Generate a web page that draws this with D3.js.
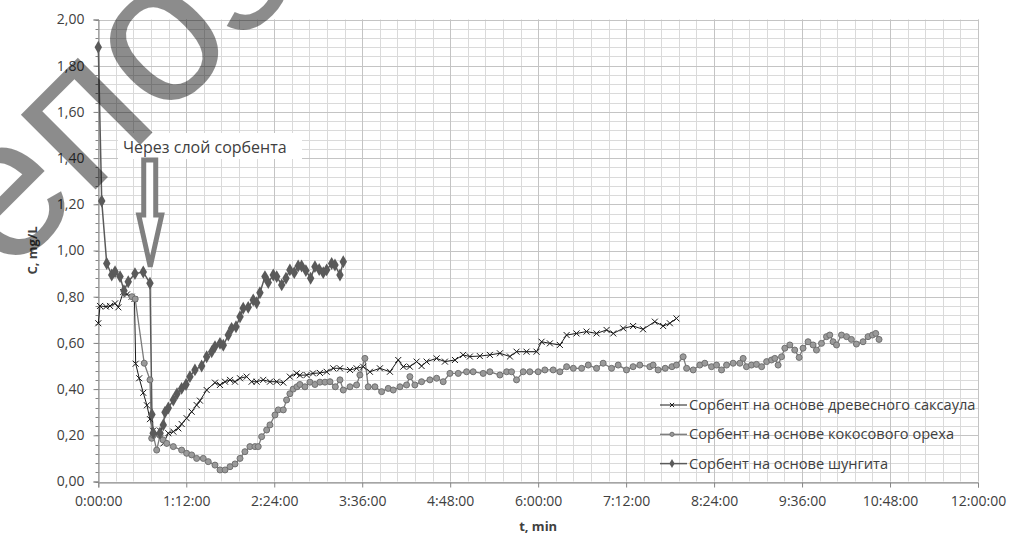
<!DOCTYPE html>
<html>
<head>
<meta charset="utf-8">
<script src="https://cdn.jsdelivr.net/npm/d3@7"></script>
<style>
  body { margin: 0; background: #fff; }
  svg { display: block; font-family: "Open Sans", sans-serif; }
</style>
</head>
<body>
<div id="chart"></div>
<script>
// t in minutes, c in mg/L
var saxaul = [
  [0,0.685],[1.4,0.76],[6.3,0.757],[9.6,0.76],[13.7,0.771],[16.4,0.754],[20.4,0.82],[23.5,0.81],
  [27.3,0.80],[29.6,0.79],[30.6,0.51],[33.5,0.447],[36.8,0.384],[39.8,0.33],[42.3,0.27],[44.8,0.22],
  [47.2,0.20],[50.5,0.22],[53.3,0.165],[57.3,0.209],[61.4,0.216],[65.5,0.23],[68.2,0.249],[72.3,0.274],
  [76.4,0.302],[80.5,0.331],[83.2,0.35],[88.7,0.396],[95.5,0.428],[99.6,0.418],[103.7,0.432],[107.8,0.44],
  [111.9,0.432],[116,0.447],[121.4,0.454],[125.5,0.432],[129.6,0.432],[135,0.44],[140.5,0.432],[146,0.432],
  [151.4,0.428],[156.8,0.454],[162.3,0.468],[165,0.46],[170.5,0.461],[175.7,0.468],[181.4,0.47],[186.9,0.475],
  [192.3,0.49],[197.8,0.49],[206,0.483],[211.4,0.49],[216.8,0.497],[222.3,0.475],[230.5,0.49],[238.7,0.475],
  [245.5,0.526],[249.6,0.497],[255,0.497],[260.5,0.519],[264.6,0.50],[268.7,0.519],[276.9,0.533],[283.7,0.519],
  [291.9,0.526],[298.6,0.548],[304.1,0.541],[312.3,0.543],[320.5,0.548],[328.7,0.555],[336.9,0.541],[342.3,0.562],
  [350.5,0.562],[358.7,0.562],[362.8,0.605],[369.6,0.598],[377.8,0.591],[383.3,0.634],[391.4,0.641],[399.6,0.649],
  [407.8,0.641],[416,0.656],[421.5,0.641],[429.6,0.663],[437.7,0.673],[445.9,0.659],[455.5,0.692],[462.3,0.673],
  [467.8,0.685],[473.2,0.706]
];

var coconut = [
  [27.5,0.80],[30.2,0.79],[37.6,0.512],[42.3,0.44],[43.7,0.187],[45,0.20],[47.8,0.136],[50.5,0.20],
  [53,0.18],[56,0.165],[61.4,0.151],[68.2,0.136],[72.3,0.122],[76.4,0.115],[80.5,0.10],[85.9,0.10],
  [90,0.086],[95.5,0.071],[99.6,0.05],[103.7,0.05],[107.8,0.064],[111.9,0.076],[116,0.10],[120,0.129],
  [124.1,0.151],[128.2,0.151],[130.9,0.151],[133.7,0.194],[137.8,0.223],[140.5,0.245],[144.6,0.288],[147.3,0.31],
  [151.4,0.31],[154.1,0.353],[156.8,0.38],[159.5,0.40],[162.6,0.41],[165,0.42],[169.1,0.41],[173.2,0.43],
  [177.3,0.42],[181.4,0.43],[185.5,0.43],[189.6,0.432],[194,0.41],[197.8,0.44],[200.5,0.396],[206,0.41],
  [211.4,0.418],[214.1,0.461],[218.2,0.533],[220.9,0.41],[226.4,0.41],[231.9,0.389],[237.3,0.403],[241.4,0.396],
  [246.9,0.41],[252.3,0.418],[255,0.454],[259.1,0.418],[264.6,0.432],[271.4,0.44],[276.9,0.447],[282.3,0.432],
  [287.8,0.468],[294.6,0.468],[301.4,0.475],[306.8,0.475],[315,0.468],[320.5,0.475],[328.7,0.461],[334.2,0.475],
  [338.2,0.475],[342.3,0.44],[347.8,0.475],[353.2,0.475],[360,0.475],[365.5,0.483],[372.3,0.483],[377.8,0.475],
  [383.3,0.497],[388.8,0.49],[395.6,0.49],[401,0.504],[407.8,0.49],[413.2,0.512],[420.1,0.49],[425.5,0.504],
  [432.3,0.483],[437.7,0.497],[443.2,0.504],[451.4,0.497],[454.1,0.504],[458.2,0.483],[464,0.49],[469.5,0.497],
  [473.2,0.504],[478.7,0.54],[481.5,0.49],[486.9,0.483],[492.3,0.504],[496.4,0.512],[501.9,0.497],[506,0.504],
  [510.1,0.483],[514.2,0.504],[519.6,0.512],[525.1,0.512],[527.8,0.533],[530.5,0.497],[534.6,0.504],[538.7,0.507],
  [542.9,0.497],[547,0.519],[551,0.526],[553.7,0.533],[556.4,0.504],[559.2,0.54],[561.9,0.577],[566,0.591],
  [570,0.569],[573.6,0.537],[576.8,0.577],[580.9,0.605],[585,0.591],[587.8,0.569],[591.9,0.598],[596,0.627],
  [598.7,0.634],[601.4,0.605],[604.2,0.591],[608.3,0.634],[612.4,0.627],[616.4,0.615],[620.5,0.595],[625.9,0.605],
  [630,0.627],[633.6,0.634],[636.3,0.641],[639,0.615]
];

var shungite = [
  [0,1.88],[2.8,1.214],[6.9,0.944],[11,0.894],[13.7,0.908],[17.8,0.887],[21,0.826],[24.5,0.865],
  [30,0.90],[36.8,0.907],[42.3,0.858],[43.9,0.29],[45,0.21],[50.5,0.21],[53.2,0.245],[54.6,0.30],
  [57.3,0.318],[61.4,0.353],[64.4,0.38],[68.2,0.403],[71.8,0.42],[75,0.454],[79.1,0.483],[84.6,0.50],
  [88.7,0.54],[92.8,0.562],[95.5,0.584],[99.6,0.598],[102.3,0.59],[106.4,0.634],[109.1,0.663],[112.7,0.67],
  [116,0.713],[118.6,0.75],[122.7,0.754],[126.8,0.786],[129.6,0.774],[132.3,0.817],[136.4,0.887],[139.1,0.861],
  [143.2,0.894],[146,0.887],[150.1,0.851],[153.6,0.88],[156.8,0.916],[160.4,0.904],[163.6,0.933],[166.4,0.933],
  [169.9,0.913],[173.8,0.88],[177.3,0.93],[180.8,0.918],[184.1,0.904],[186.9,0.916],[191,0.944],[193.7,0.937],
  [197.8,0.894],[200.5,0.951]
];

var seriesNames = [
  "Сорбент на основе древесного саксаула",
  "Сорбент на основе кокосового ореха",
  "Сорбент на основе шунгита"
];

var yTicks = d3.range(0, 2.001, 0.2);
var xTicks = d3.range(0, 720.1, 72);

var width = 1009, height = 536;
var svg = d3.select("#chart").append("svg")
  .attr("width", width)
  .attr("height", height);

var x = d3.scaleLinear().domain([0, 720]).range([98.3, 978]);
var y = d3.scaleLinear().domain([0, 2]).range([481.5, 19.5]);

function fmtTime(m) {
  var h = Math.floor(m / 60 + 1e-9);
  var mm = Math.round(m - h * 60);
  return h + ":" + (mm < 10 ? "0" : "") + mm + ":00";
}
function fmtC(v) { return d3.format(".2f")(v).replace(".", ","); }

// grid, minor then major
var grid = svg.append("g");
grid.selectAll("line.vmin")
  .data(d3.range(0, 720.1, 14.4))
  .enter().append("line")
  .attr("x1", function(d) { return Math.round(x(d)) + 0.5; })
  .attr("x2", function(d) { return Math.round(x(d)) + 0.5; })
  .attr("y1", y(2)).attr("y2", y(0))
  .attr("stroke", "#dadada");
grid.selectAll("line.hmin")
  .data(d3.range(0, 2.001, 0.04))
  .enter().append("line")
  .attr("y1", function(d) { return Math.round(y(d)) + 0.5; })
  .attr("y2", function(d) { return Math.round(y(d)) + 0.5; })
  .attr("x1", x(0)).attr("x2", x(720))
  .attr("stroke", "#dadada");
grid.selectAll("line.vmaj")
  .data(xTicks)
  .enter().append("line")
  .attr("x1", function(d) { return Math.round(x(d)) + 0.5; })
  .attr("x2", function(d) { return Math.round(x(d)) + 0.5; })
  .attr("y1", y(2)).attr("y2", y(0))
  .attr("stroke", "#c4c4c4");
grid.selectAll("line.hmaj")
  .data(yTicks)
  .enter().append("line")
  .attr("y1", function(d) { return Math.round(y(d)) + 0.5; })
  .attr("y2", function(d) { return Math.round(y(d)) + 0.5; })
  .attr("x1", x(0)).attr("x2", x(720))
  .attr("stroke", "#c4c4c4");

// axes
var yAxis = svg.append("g")
  .attr("transform", "translate(" + (Math.round(x(0)) + 0.5) + ",0)")
  .call(d3.axisLeft(y).tickValues(yTicks).tickFormat(fmtC).tickSize(5).tickPadding(9));
yAxis.selectAll("text").attr("font-size", 14).attr("fill", "#404040").style("font-family", "Open Sans");
yAxis.append("g").selectAll("line")
  .data(d3.range(0, 2.001, 0.04))
  .enter().append("line")
  .attr("x1", -3).attr("x2", 0)
  .attr("y1", function(d) { return Math.round(y(d)) + 0.5; })
  .attr("y2", function(d) { return Math.round(y(d)) + 0.5; })
  .attr("stroke", "#868686");

var xAxis = svg.append("g")
  .attr("transform", "translate(0," + (Math.round(y(0)) + 0.5) + ")")
  .call(d3.axisBottom(x).tickValues(xTicks).tickFormat(fmtTime).tickSize(5).tickPadding(9));
xAxis.selectAll("text").attr("font-size", 14).attr("fill", "#404040").style("font-family", "Open Sans");
svg.selectAll(".domain").attr("stroke", "#868686");
svg.selectAll(".tick line").attr("stroke", "#868686");

// axis titles
svg.append("text")
  .attr("x", x(360)).attr("y", 531)
  .attr("text-anchor", "middle")
  .attr("font-size", 13).attr("font-weight", "bold").attr("fill", "#404040")
  .text("t, min");
svg.append("text")
  .attr("transform", "translate(37," + y(1) + ") rotate(-90)")
  .attr("text-anchor", "middle")
  .attr("font-size", 13).attr("font-weight", "bold").attr("fill", "#404040")
  .text("C, mg/L");

// lines
var line = d3.line()
  .x(function(d) { return x(d[0]); })
  .y(function(d) { return y(d[1]); });

var styles = [
  { data: saxaul, stroke: "#1a1a1a", width: 1 },
  { data: coconut, stroke: "#7a7a7a", width: 1.3 },
  { data: shungite, stroke: "#5a5a5a", width: 1.5 }
];

var crossPath = "M-3,-3L3,3M-3,3L3,-3";
var diamond = d3.symbol().type(d3.symbolDiamond).size(48);

function drawMarker(sel, i, scale) {
  if (i === 0) {
    sel.append("path").attr("d", crossPath)
      .attr("stroke", "#1a1a1a").attr("stroke-width", 1 / scale)
      .attr("transform", "scale(" + scale + ")");
  } else if (i === 1) {
    sel.append("circle").attr("r", 3 * scale)
      .attr("fill", "#9a9a9a").attr("stroke", "#707070").attr("stroke-width", 1);
  } else {
    sel.append("path").attr("d", diamond)
      .attr("fill", "#5a5a5a")
      .attr("transform", "scale(" + scale + ")");
  }
}

styles.forEach(function(s, i) {
  svg.append("path")
    .datum(s.data)
    .attr("fill", "none")
    .attr("stroke", s.stroke)
    .attr("stroke-width", s.width)
    .attr("d", line);
});

styles.forEach(function(s, i) {
  var g = svg.append("g").selectAll("g")
    .data(s.data)
    .enter().append("g")
    .attr("transform", function(d) { return "translate(" + x(d[0]) + "," + y(d[1]) + ")"; });
  drawMarker(g, i, 1);
});

// legend
var legend = svg.append("g").attr("transform", "translate(660,405)");
seriesNames.forEach(function(name, i) {
  var row = legend.append("g").attr("transform", "translate(0," + (i * 29.3) + ")");
  row.append("line")
    .attr("x1", 0).attr("x2", 27)
    .attr("stroke", styles[i].stroke).attr("stroke-width", styles[i].width);
  var m = row.append("g").attr("transform", "translate(12,0)");
  drawMarker(m, i, 0.7);
  row.append("text")
    .attr("x", 29).attr("y", 5)
    .attr("font-size", 14.6).attr("fill", "#404040")
    .text(name);
});

// annotation with hollow arrow
var ann = svg.append("g");
ann.append("rect")
  .attr("x", 118).attr("y", 133)
  .attr("width", 184).attr("height", 26)
  .attr("fill", "#fff");
ann.append("text")
  .attr("x", 123).attr("y", 153)
  .attr("font-size", 16).attr("fill", "#404040")
  .text("Через слой сорбента");
var tipX = x(42.5), tipY = y(0.93);
var arrowPts = [
  [tipX - 6.5, 160], [tipX + 5.5, 160], [tipX + 5.5, 215], [tipX + 11.5, 215],
  [tipX, tipY], [tipX - 11.5, 215], [tipX - 6.5, 215]
];
ann.append("path")
  .attr("d", "M" + arrowPts.join("L") + "Z")
  .attr("fill", "#fff")
  .attr("stroke", "#808080")
  .attr("stroke-width", 5)
  .attr("stroke-linejoin", "miter");

// watermark
svg.append("text")
  .attr("transform", "translate(-81,366) rotate(-45)")
  .attr("font-family", "Liberation Sans, Arial, sans-serif")
  .attr("font-size", 200)
  .attr("fill", "#000")
  .attr("fill-opacity", 0.45)
  .text("Репозиторий");
</script>
</body>
</html>
